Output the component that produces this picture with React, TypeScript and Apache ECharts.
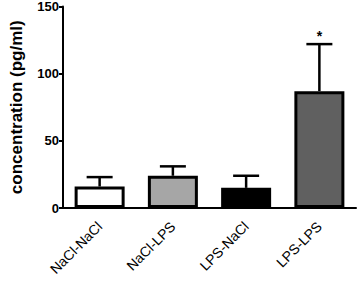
import React, { useEffect, useRef } from "react";
import * as echarts from "echarts";

const categories = ["NaCl-NaCl", "NaCl-LPS", "LPS-NaCl", "LPS-LPS"];
const means = [16, 24, 15, 87];
const errorTops = [23, 31, 24, 122];
const barColors = ["#ffffff", "#a6a6a6", "#000000", "#606060"];
const annotations = ["", "", "", "*"];
const yTicks = { min: 0, max: 150, interval: 50 };

const FONT = "Liberation Sans, Arial, sans-serif";

export default function App() {
  const ref = useRef<HTMLDivElement>(null);
  useEffect(() => {
    document.body.style.margin = "0";
    const chart = echarts.init(ref.current!, null, { renderer: "svg" });
    chart.setOption({
      animation: false,
      backgroundColor: "#ffffff",
      grid: { left: 52, right: 2, top: 6, bottom: 73 },
      xAxis: {
        type: "category",
        data: categories,
        axisLine: { lineStyle: { color: "#000", width: 2 } },
        axisTick: { alignWithLabel: true, length: 5, lineStyle: { color: "#000", width: 2 } },
        axisLabel: {
          interval: 0,
          rotate: 45,
          color: "#000",
          fontFamily: FONT,
          fontSize: 14,
          margin: 16,
        },
      },
      yAxis: {
        type: "value",
        min: yTicks.min,
        max: yTicks.max,
        interval: yTicks.interval,
        name: "concentration (pg/ml)",
        nameLocation: "middle",
        nameGap: 38,
        nameTextStyle: {
          color: "#000",
          fontFamily: FONT,
          fontSize: 17,
          fontWeight: "bold",
        },
        splitLine: { show: false },
        axisLine: { show: true, lineStyle: { color: "#000", width: 2 } },
        axisTick: { show: true, length: 4, lineStyle: { color: "#000", width: 2 } },
        axisLabel: {
          color: "#000",
          fontFamily: FONT,
          fontSize: 13,
          fontWeight: "bold",
          margin: 4,
        },
      },
      series: [
        {
          type: "custom",
          z: 1,
          clip: false,
          data: categories.map((_, i) => [i, means[i], errorTops[i]]),
          renderItem: (params: any, api: any) => {
            const idx = api.value(0);
            const top = api.coord([idx, api.value(2)]);
            const base = api.coord([idx, api.value(1)]);
            const half = 13;
            const children: any[] = [
              {
                type: "line",
                shape: { x1: top[0], y1: top[1], x2: base[0], y2: base[1] },
                style: { stroke: "#000", lineWidth: 2.5 },
              },
              {
                type: "line",
                shape: { x1: top[0] - half, y1: top[1], x2: top[0] + half, y2: top[1] },
                style: { stroke: "#000", lineWidth: 2.5 },
              },
            ];
            const ann = annotations[params.dataIndex];
            if (ann) {
              children.push({
                type: "text",
                x: top[0],
                y: top[1] - 1,
                style: {
                  text: ann,
                  fill: "#000",
                  fontSize: 14,
                  fontWeight: "bold",
                  fontFamily: FONT,
                  align: "center",
                  verticalAlign: "bottom",
                },
              });
            }
            return { type: "group", children };
          },
        },
        {
          type: "bar",
          z: 2,
          barWidth: 50,
          data: means.map((v, i) => ({
            value: v,
            itemStyle: { color: barColors[i], borderColor: "#000", borderWidth: 3 },
          })),
        },
      ],
    });
    return () => chart.dispose();
  }, []);
  return <div ref={ref} style={{ width: 358, height: 281 }} />;
}
